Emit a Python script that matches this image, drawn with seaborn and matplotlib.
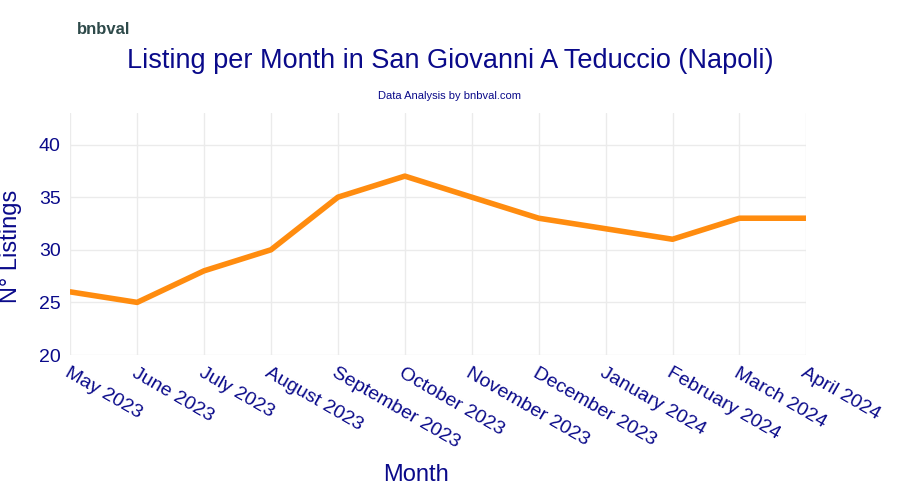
import matplotlib
matplotlib.use("Agg")
import matplotlib.pyplot as plt
import seaborn as sns
import pandas as pd

months = ["May 2023","June 2023","July 2023","August 2023","September 2023","October 2023",
          "November 2023","December 2023","January 2024","February 2024","March 2024","April 2024"]
listings = [26, 25, 28, 30, 35, 37, 35, 33, 32, 31, 33, 33]

sns.set_style("white")
plt.rcParams['font.family'] = ['Liberation Sans', 'DejaVu Sans']
navy = "#0a0a8a"

df = pd.DataFrame({"Month": months, "Listings": listings, "x": range(len(months))})
fig = plt.figure(figsize=(9, 5), dpi=100)
ax = fig.add_axes([0.078, 0.29, 0.818, 0.484])
sns.lineplot(data=df, x="x", y="Listings", ax=ax, color="#ff8c0f", linewidth=4)
ax.set_xlim(0, len(months) - 1)
ax.set_ylim(20, 43)
ax.set_yticks([20, 25, 30, 35, 40])
ax.set_xticks(range(len(months)))
ax.set_xticklabels(months, rotation=-30, ha="left", rotation_mode="anchor")
ax.tick_params(colors=navy, labelsize=14, length=0, pad=7)
ax.grid(True, color="#ebebeb", linewidth=1)
for s in ax.spines.values():
    s.set_visible(False)
ax.set_xlabel("Month", color=navy, fontsize=17)
ax.set_ylabel("N° Listings", color=navy, fontsize=17)
ax.xaxis.set_label_coords(0.47, -0.45)
ax.yaxis.set_label_coords(-0.065, 0.45)
fig.text(0.5, 0.878, "Listing per Month in San Giovanni A Teduccio (Napoli)", ha="center",
         va="center", color=navy, fontsize=19.5)
fig.text(0.5, 0.808, "Data Analysis by bnbval.com", ha="center", va="center", color=navy, fontsize=8)
fig.text(0.085, 0.94, "bnbval", ha="left", va="center", color="#2e4a4a", fontsize=12, fontweight="bold")
fig.savefig("out.png", dpi=100)
